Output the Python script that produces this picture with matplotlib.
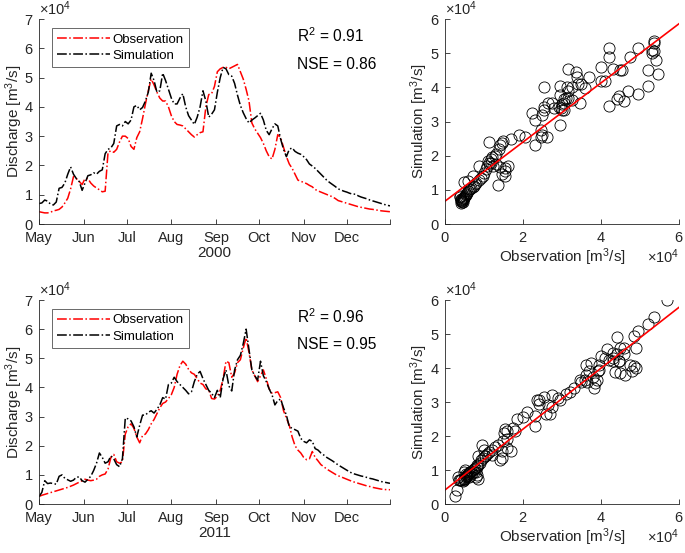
import matplotlib.pyplot as plt
import numpy as np
from matplotlib.ticker import ScalarFormatter

plt.rcParams['font.family'] = ['Liberation Sans', 'DejaVu Sans']
plt.rcParams['mathtext.fontset'] = 'custom'
plt.rcParams['mathtext.rm'] = 'Liberation Sans'
plt.rcParams['mathtext.it'] = 'Liberation Sans:italic'
plt.rcParams['mathtext.bf'] = 'Liberation Sans:bold'

# days after 1 May, every second day; discharge in 1e4 m3/s
days = np.arange(0, 245, 2)

obs_2000 = [
    0.42, 0.40, 0.38, 0.38, 0.40, 0.45, 0.47, 0.50, 0.58, 0.72,
    0.88, 1.20, 1.62, 1.55, 1.45, 1.35, 1.55, 1.55, 1.40, 1.30,
    1.23, 1.17, 1.10, 1.12, 2.45, 2.50, 2.45, 2.55, 2.80, 3.00,
    3.00, 2.92, 2.65, 2.55, 2.95, 3.15, 3.60, 4.10, 4.55, 4.95,
    4.75, 4.50, 4.30, 4.20, 4.20, 4.00, 3.70, 3.50, 3.40, 3.38,
    3.35, 3.25, 3.15, 3.05, 2.97, 3.05, 3.12, 3.15, 4.00, 4.42,
    4.45, 4.70, 5.20, 5.30, 5.35, 5.35, 5.30, 5.35, 5.40, 5.45,
    5.20, 4.95, 4.60, 4.20, 3.45, 3.25, 3.10, 2.95, 2.75, 2.50,
    2.30, 2.22, 2.55, 3.05, 2.95, 2.62, 2.30, 2.05, 1.90, 1.70,
    1.50, 1.46, 1.42, 1.38, 1.32, 1.27, 1.18, 1.13, 1.09, 1.05,
    1.01, 0.97, 0.93, 0.87, 0.80, 0.77, 0.74, 0.71, 0.68, 0.65,
    0.62, 0.59, 0.57, 0.55, 0.53, 0.51, 0.50, 0.48, 0.47, 0.45,
    0.44, 0.43, 0.42]
sim_2000 = [
    0.70, 0.72, 0.82, 0.78, 0.68, 0.65, 0.75, 1.22, 1.25, 1.40,
    1.70, 1.95, 1.70, 1.55, 1.45, 1.15, 1.40, 1.65, 1.68, 1.75,
    1.70, 1.80, 1.85, 2.40, 2.55, 2.60, 2.75, 3.35, 3.40, 3.35,
    3.50, 3.42, 3.55, 4.00, 4.05, 3.90, 3.98, 4.20, 4.50, 5.15,
    4.90, 4.50, 4.55, 5.15, 4.90, 4.60, 4.30, 4.10, 4.10, 4.30,
    4.45, 4.00, 3.70, 3.55, 3.40, 3.65, 4.00, 4.55, 4.20, 3.65,
    3.75, 3.90, 4.50, 5.00, 5.35, 5.30, 5.10, 5.05, 4.80, 4.40,
    4.05, 3.80, 3.60, 3.45, 3.55, 3.62, 3.70, 3.78, 3.55, 3.20,
    3.05, 3.25, 3.42, 3.35, 2.90, 2.55, 2.30, 2.55, 2.60, 2.48,
    2.42, 2.38, 2.30, 2.20, 2.05, 1.98, 1.90, 1.80, 1.70, 1.60,
    1.50, 1.42, 1.35, 1.28, 1.20, 1.16, 1.12, 1.09, 1.05, 1.02,
    1.02, 0.96, 0.92, 0.89, 0.86, 0.82, 0.79, 0.76, 0.73, 0.70,
    0.67, 0.64, 0.62]
obs_2011 = [
    0.26, 0.30, 0.33, 0.36, 0.39, 0.42, 0.45, 0.48, 0.51, 0.54,
    0.57, 0.61, 0.65, 0.70, 0.75, 0.80, 0.85, 0.82, 0.80, 0.82,
    0.85, 0.95, 1.00, 1.03, 1.20, 1.60, 1.70, 1.45, 1.40, 1.45,
    2.40, 2.65, 2.75, 2.60, 2.30, 2.10, 2.35, 2.40, 2.55, 2.75,
    2.90, 3.10, 3.30, 3.45, 3.50, 3.62, 3.75, 4.00, 4.45, 4.75,
    4.90, 4.80, 4.62, 4.50, 4.45, 4.30, 4.15, 4.10, 3.95, 3.92,
    3.62, 3.60, 3.70, 3.90, 4.30, 4.90, 4.85, 4.35, 4.50, 4.85,
    4.95, 5.35, 5.70, 5.20, 4.60, 4.40, 4.20, 4.40, 4.60, 4.30,
    3.95, 3.80, 3.82, 3.85, 3.65, 3.20, 2.95, 2.70, 2.30, 2.00,
    1.85, 1.75, 1.60, 1.52, 1.55, 1.80, 1.60, 1.48, 1.35, 1.28,
    1.20, 1.14, 1.08, 1.02, 0.97, 0.93, 0.89, 0.85, 0.81, 0.77,
    0.74, 0.71, 0.68, 0.65, 0.62, 0.60, 0.57, 0.55, 0.53, 0.51,
    0.50, 0.49, 0.49]
sim_2011 = [
    0.25, 0.40, 0.80, 0.70, 0.72, 0.70, 0.68, 0.95, 1.00, 0.88,
    0.83, 0.78, 0.82, 0.92, 0.93, 0.80, 0.75, 0.85, 0.95, 1.15,
    1.40, 1.75, 1.60, 1.40, 1.45, 1.65, 1.55, 1.35, 1.28, 1.55,
    2.95, 2.92, 2.85, 2.65, 2.30, 2.70, 3.05, 3.05, 3.15, 3.20,
    3.12, 3.25, 3.40, 3.65, 3.60, 4.10, 4.15, 4.35, 4.20, 4.10,
    4.00, 3.90, 3.78, 3.85, 4.20, 4.45, 4.55, 4.30, 4.10, 3.90,
    3.80, 3.65, 3.90, 3.65, 4.30, 4.60, 4.05, 3.88, 4.60, 4.95,
    5.10, 5.50, 6.00, 5.30, 4.60, 4.40, 4.25, 4.90, 4.40, 4.20,
    3.95, 3.75, 3.40, 3.55, 3.60, 3.30, 3.05, 2.65, 2.60, 2.55,
    2.50, 2.25, 2.15, 2.10, 2.20, 2.15, 1.90, 1.85, 1.75, 1.68,
    1.60, 1.54, 1.48, 1.41, 1.34, 1.28, 1.22, 1.16, 1.10, 1.05,
    1.02, 0.99, 0.96, 0.94, 0.91, 0.88, 0.86, 0.83, 0.80, 0.77,
    0.75, 0.73, 0.71]

month_days = [0, 31, 61, 92, 123, 153, 184, 214]
month_labels = ['May', 'Jun', 'Jul', 'Aug', 'Sep', 'Oct', 'Nov', 'Dec']

panels = [
    ('2000', obs_2000, sim_2000, '0.91', '0.86'),
    ('2011', obs_2011, sim_2011, '0.96', '0.95'),
]

GRAY = '#262626'
LAB = 11.0


def style_axes(ax):
    for s in ['top', 'right']:
        ax.spines[s].set_visible(False)
    for s in ['left', 'bottom']:
        ax.spines[s].set_color(GRAY)
        ax.spines[s].set_linewidth(0.6)
    ax.tick_params(which='both', direction='in', length=3.5, width=0.6, color=GRAY,
                   labelcolor=GRAY, labelsize=10.5)
    ax.tick_params(axis='x', pad=5)
    ax.tick_params(axis='y', pad=4)


def sci_axis(axis):
    fmt = ScalarFormatter(useMathText=True)
    fmt.set_powerlimits((4, 4))
    axis.set_major_formatter(fmt)
    axis.get_offset_text().set_fontsize(10.5)
    axis.get_offset_text().set_color(GRAY)


fig = plt.figure(figsize=(6.85, 5.53), dpi=100)

rows = [(0.5949, 0.3707), (0.0886, 0.3689)]
for (year, obs, sim, r2, nse), (bot, h) in zip(panels, rows):
    obs = np.array(obs) * 1e4
    sim = np.array(sim) * 1e4

    ax = fig.add_axes([0.0569, bot, 0.5124, h])
    ax.plot(days, obs, 'r-.', lw=1.1, label='Observation')
    ax.plot(days, sim, 'k-.', lw=1.1, label='Simulation')
    ax.set_xlim(0, 244)
    ax.set_ylim(0, 7e4)
    ax.set_xticks(month_days)
    ax.set_xticklabels(month_labels)
    ax.set_xticks([244], minor=True)
    ax.set_yticks(np.arange(0, 7.1e4, 1e4))
    style_axes(ax)
    sci_axis(ax.yaxis)
    ax.set_xlabel(year, fontsize=LAB, color=GRAY, labelpad=1)
    ax.set_ylabel('Discharge [m$^3$/s]', fontsize=LAB, color=GRAY)
    ax.yaxis.set_label_coords(-0.04, 0.5)
    leg = ax.legend(loc='upper left', bbox_to_anchor=(0.037, 0.956), borderaxespad=0,
                    fontsize=9.5, handlelength=4.0, handletextpad=0.2,
                    labelspacing=0.3, borderpad=0.4, fancybox=False)
    leg.get_frame().set_edgecolor(GRAY)
    leg.get_frame().set_linewidth(0.6)
    ax.text(0.735, 0.888, 'R$^2$ = ' + r2, transform=ax.transAxes,
            fontsize=11.2, va='baseline', color='k')
    ax.text(0.735, 0.758, 'NSE = ' + nse, transform=ax.transAxes,
            fontsize=11.2, va='baseline', color='k')

    ax2 = fig.add_axes([0.6496, bot, 0.3416, h])
    ax2.plot(obs, sim, 'o', mfc='none', mec='k', ms=8.0, mew=0.6)
    k, b = np.polyfit(obs, sim, 1)
    xl = np.array([0, 6e4])
    ax2.plot(xl, k * xl + b, 'r-', lw=1.2)
    ax2.set_xlim(0, 6e4)
    ax2.set_ylim(0, 6e4)
    ax2.set_xticks(np.arange(0, 6.1e4, 2e4))
    ax2.set_yticks(np.arange(0, 6.1e4, 1e4))
    style_axes(ax2)
    sci_axis(ax2.xaxis)
    sci_axis(ax2.yaxis)
    ax2.xaxis.get_offset_text().set_visible(False)
    ax2.text(0.863, -0.19, r'$\times\mathregular{10^4}$', transform=ax2.transAxes,
             fontsize=10.5, color=GRAY, va='baseline')
    ax2.set_xlabel('Observation [m$^3$/s]', fontsize=LAB, color=GRAY, labelpad=1)
    ax2.set_ylabel('Simulation [m$^3$/s]', fontsize=LAB, color=GRAY)
    ax2.yaxis.set_label_coords(-0.064, 0.5)

plt.savefig('out.png', dpi=100)
